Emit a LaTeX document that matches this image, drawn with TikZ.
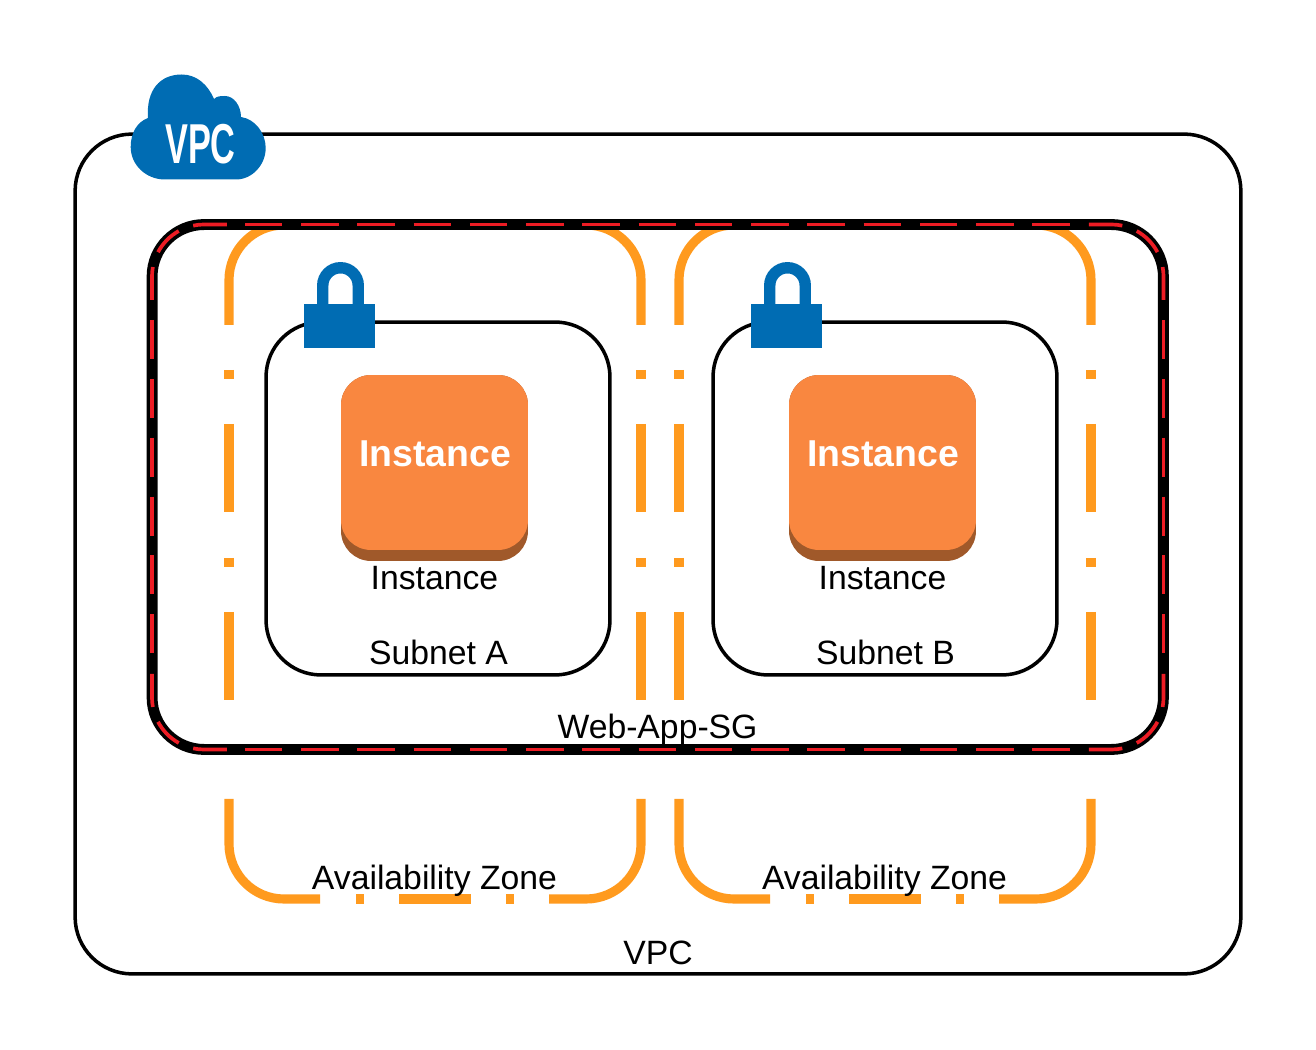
\documentclass[tikz,border=0pt]{standalone}
\usepackage{xcolor}
\usepackage{fontspec}
\setmainfont{Liberation Sans}
\usetikzlibrary{positioning}
\definecolor{zoneorange}{HTML}{FF9A1E}
\definecolor{sgred}{HTML}{ED1C24}
\definecolor{awsblue}{HTML}{006CB3}
\definecolor{ecface}{HTML}{F98740}
\definecolor{ecside}{HTML}{A0592A}
\tikzset{
  vpcbox/.style={draw, line width=2pt, rounded corners=1.14cm, minimum width=23.32cm, minimum height=16.8cm, inner sep=0},
  sgbox/.style={draw, line width=6.2pt, rounded corners=1.04cm, minimum width=20.23cm, minimum height=10.5cm, inner sep=0},
  sgdash/.style={draw=sgred, line width=2.1pt},
  subnetbox/.style={draw, line width=2pt, rounded corners=1.1cm, minimum width=6.88cm, minimum height=7.06cm, inner sep=0},
  ecbase/.style={fill=ecside, rounded corners=0.6cm, minimum width=3.74cm, minimum height=3.72cm, inner sep=0},
  ectop/.style={fill=ecface, rounded corners=0.6cm, minimum width=3.74cm, minimum height=3.5cm, inner sep=0},
  zoneline/.style={draw=zoneorange, line width=5.2pt},
  lbl/.style={font=\fontsize{19.2}{22}\selectfont, inner sep=0, anchor=base},
  eclbl/.style={font=\fontsize{21.3}{24}\selectfont\bfseries, text=white, inner sep=0, anchor=base},
  lockbody/.style={fill=awsblue, minimum width=1.42cm, minimum height=0.88cm, inner sep=0}
}
\begin{document}
\begin{tikzpicture}[x=0.02cm, y=-0.02cm]
  \useasboundingbox (0,0) rectangle (1316,1050);
  % Availability zones
  \foreach \zx in {0,450} {
    \begin{scope}[xshift=\zx*0.02cm]
      \draw[zoneline, rounded corners=1.1cm] (229,325) -- (229,225) -- (641,225) -- (641,325);
      \draw[zoneline, rounded corners=1.1cm] (229,799) -- (229,899) -- (320,899);
      \draw[zoneline, rounded corners=1.1cm] (549,899) -- (641,899) -- (641,799);
      \draw[zoneline] (356,899) -- (363.5,899);
      \draw[zoneline] (399,899) -- (470.5,899);
      \draw[zoneline] (506,899) -- (513.5,899);
      \foreach \zlx in {229,641} {
        \draw[zoneline] (\zlx,370) -- (\zlx,379);
        \draw[zoneline] (\zlx,424) -- (\zlx,512);
        \draw[zoneline] (\zlx,558) -- (\zlx,567);
        \draw[zoneline] (\zlx,612) -- (\zlx,700);
      }
    \end{scope}
  }
  % Boxes
  \node[vpcbox] (vpc) at (658,554) {};
  \node[sgbox] (sg) at (657.75,487) {};
  \node[subnetbox] (subnetA) at (438,498.5) {};
  \node[subnetbox] (subnetB) at (885,498.5) {};
  % Red dashes on the security group
  \draw[sgdash, dash pattern=on 0.75cm off 0.375cm] (245,224.5) -- (1070.5,224.5);
  \draw[sgdash, dash pattern=on 0.75cm off 0.375cm] (245,749.5) -- (1070.5,749.5);
  \draw[sgdash, dash pattern=on 0.78cm off 0.397cm] (152,320) -- (152,654);
  \draw[sgdash, dash pattern=on 0.78cm off 0.397cm] (1163.5,320) -- (1163.5,654);
  \foreach \sx/\sy in {1/1, -1/1, 1/-1, -1/-1} {
    \begin{scope}[shift={(657.75,487)}, xscale=\sx, yscale=\sy]
      \draw[sgdash] (-505.75,-187) -- (-505.75,-210.5) arc (180:190.5:52);
      \draw[sgdash] ([shift={(207.9:52)}]-453.75,-210.5) arc (207.9:241:52);
      \draw[sgdash] ([shift={(258:52)}]-453.75,-210.5) arc (258:270:52) -- (-431,-262.5);
    \end{scope}
  }
  % Instances
  \node[ecbase] (baseA) at (434.5,468) {};
  \node[ectop] (topA) at (434.5,462.5) {};
  \node[ecbase] (baseB) at (882.5,468) {};
  \node[ectop] (topB) at (882.5,462.5) {};
  \node[eclbl] (instA) at (435,466.3) {Instance};
  \node[eclbl] (instB) at (883,466.3) {Instance};
  % Locks
  \foreach \lockx/\lockname in {339.5/lockA, 786.5/lockB} {
    \draw[awsblue, line width=6.5pt] (\lockx-16.75,304) -- (\lockx-16.75,285.5) arc (180:360:17.75) -- (\lockx+18.75,304);
    \node[lockbody] (\lockname) at (\lockx,326) {};
  }
  % Cloud
  \fill[awsblue] (165,179.5) .. controls (146,179.5) and (130.7,165) .. (130.7,147)
    .. controls (130.7,133) and (137,122) .. (148,118)
    .. controls (146,90) and (160,74.5) .. (181.7,74.5)
    .. controls (197,74.5) and (208,85) .. (214,99)
    .. controls (217,96) and (221,96) .. (225,96)
    .. controls (234,96) and (241,106) .. (241,117)
    .. controls (255,119) and (265.7,133) .. (265.7,148)
    .. controls (265.7,165) and (252,179.5) .. (236,179.5) -- cycle;
  \node[font=\fontsize{32}{36}\selectfont\bfseries, text=white, inner sep=0, xscale=0.61] (cloudlbl) at (200.5,144) {VPC};
  % Labels
  \node[lbl] (lblvpc) at (658,964) {VPC};
  \node[lbl] (lblsg) at (657.5,739) {Web-App-SG};
  \node[lbl] (lblzoneA) at (434.5,889) {Availability Zone};
  \node[lbl] (lblzoneB) at (884.5,889) {Availability Zone};
  \node[lbl] (lblsubA) at (438.5,665) {Subnet A};
  \node[lbl] (lblsubB) at (885.5,665) {Subnet B};
  \node[lbl] (lblinstA) at (434.5,590) {Instance};
  \node[lbl] (lblinstB) at (882.5,590) {Instance};
\end{tikzpicture}
\end{document}
